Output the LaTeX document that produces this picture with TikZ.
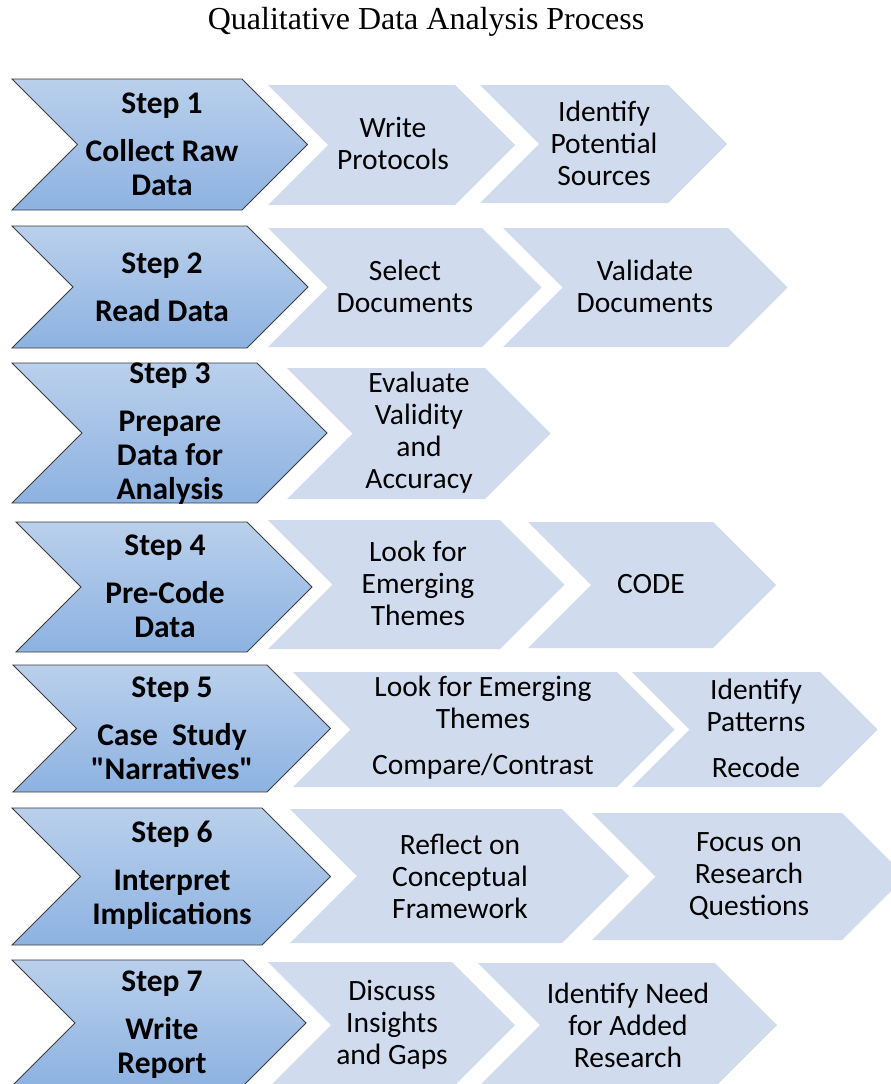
\documentclass[tikz,border=0pt]{standalone}
\usepackage{fontspec}
\setmainfont{Carlito}[Ligatures=TeXOff]
\newfontfamily\titlefont{Liberation Serif}
\usepackage{tikz}
\usepackage{xcolor}
\definecolor{steptop}{RGB}{186,208,236}
\definecolor{stepbot}{RGB}{141,178,225}
\definecolor{stepline}{RGB}{60,60,60}
\definecolor{subfill}{RGB}{208,220,238}
\tikzstyle{stepbox}=[draw=stepline,line width=0.9pt,line join=miter,top color=steptop,bottom color=stepbot]
\tikzstyle{subbox}=[fill=subfill]
\tikzstyle{steptext}=[font=\bfseries\fontsize{31.5}{34}\selectfont,align=center,inner sep=0]
\tikzstyle{subtext}=[font=\fontsize{29.5}{32}\selectfont,align=center,inner sep=0]

\begin{document}
\begin{tikzpicture}[x=1pt,y=-1pt]
  \useasboundingbox (0,0) rectangle (891,1084);
  % chevron: style, left x, top-right x, top y, bottom y
  \def\chev#1#2#3#4#5{%
    \path[#1] (#2,#4) -- (#3,#4) -- ({#3+(#5-#4)/2},{(#4+#5)/2}) --
      (#3,#5) -- (#2,#5) -- ({#2+(#5-#4)/2},{(#4+#5)/2}) -- cycle;}

  \node[font=\titlefont\fontsize{32}{36}\selectfont] (title) at (426,22) {Qualitative Data Analysis Process};

  % step 1
  \chev{stepbox}{12}{242}{79}{210}
  \chev{subbox}{268}{455}{85}{205}
  \chev{subbox}{480}{668}{85}{203}
  \node[steptext] (step1) at (162,144) {Step 1\\[14pt]Collect Raw\\Data};
  \node[subtext] (sub1a) at (393,143) {Write\\Protocols};
  \node[subtext] (sub1b) at (604,143) {Identify\\Potential\\Sources};

  % step 2
  \chev{stepbox}{12}{247}{226}{348}
  \chev{subbox}{268}{482}{228}{347}
  \chev{subbox}{503}{728}{228}{347}
  \node[steptext] (step2) at (162,287) {Step 2\\[14pt]Read Data};
  \node[subtext] (sub2a) at (405,286) {Select\\Documents};
  \node[subtext] (sub2b) at (645,286) {Validate\\Documents};

  % step 3
  \chev{stepbox}{12}{257}{363}{503}
  \chev{subbox}{287}{485}{368}{499}
  \node[steptext] (step3) at (170,434) {Step 3\\[14pt]Prepare\\Data for\\Analysis};
  \node[subtext] (sub3a) at (419,433) {Evaluate\\Validity\\and\\Accuracy};

  % step 4
  \chev{stepbox}{16}{247}{522}{652}
  \chev{subbox}{268}{500}{520}{649}
  \chev{subbox}{528}{713}{522}{648}
  \node[steptext] (step4) at (165,586) {Step 4\\[14pt]Pre-Code\\Data};
  \node[subtext] (sub4a) at (418,583) {Look for\\Emerging\\Themes};
  \node[subtext] (sub4b) at (651,584) {CODE};

  % step 5
  \chev{stepbox}{13}{267}{665}{792}
  \chev{subbox}{293}{617}{672}{787}
  \chev{subbox}{632}{820}{672}{787}
  \node[steptext] (step5) at (172,728) {Step 5\\[14pt]Case\ \ Study\\"Narratives"};
  \node[subtext] (sub5a) at (483,728) {Look for Emerging\\Themes\\[14pt]Compare/Contrast};
  \node[subtext] (sub5b) at (756,728) {Identify\\Patterns\\[14pt]Recode};

  % step 6
  \chev{stepbox}{12}{262}{808}{945}
  \chev{subbox}{290}{562}{809}{943}
  \chev{subbox}{592}{842}{813}{940}
  \node[steptext] (step6) at (172,875) {Step 6\\[14pt]Interpret\\Implications};
  \node[subtext] (sub6a) at (460,876) {Reflect on\\Conceptual\\Framework};
  \node[subtext] (sub6b) at (749,876) {Focus on\\Research\\Questions};

  % step 7
  \chev{stepbox}{12}{243}{960}{1086}
  \chev{subbox}{268}{452}{962}{1088}
  \chev{subbox}{478}{715}{963}{1087}
  \node[steptext] (step7) at (162,1025) {Step 7\\[14pt]Write\\Report};
  \node[subtext] (sub7a) at (392,1025) {Discuss\\Insights\\and Gaps};
  \node[subtext] (sub7b) at (628,1025) {Identify Need\\for Added\\Research};
\end{tikzpicture}
\end{document}
